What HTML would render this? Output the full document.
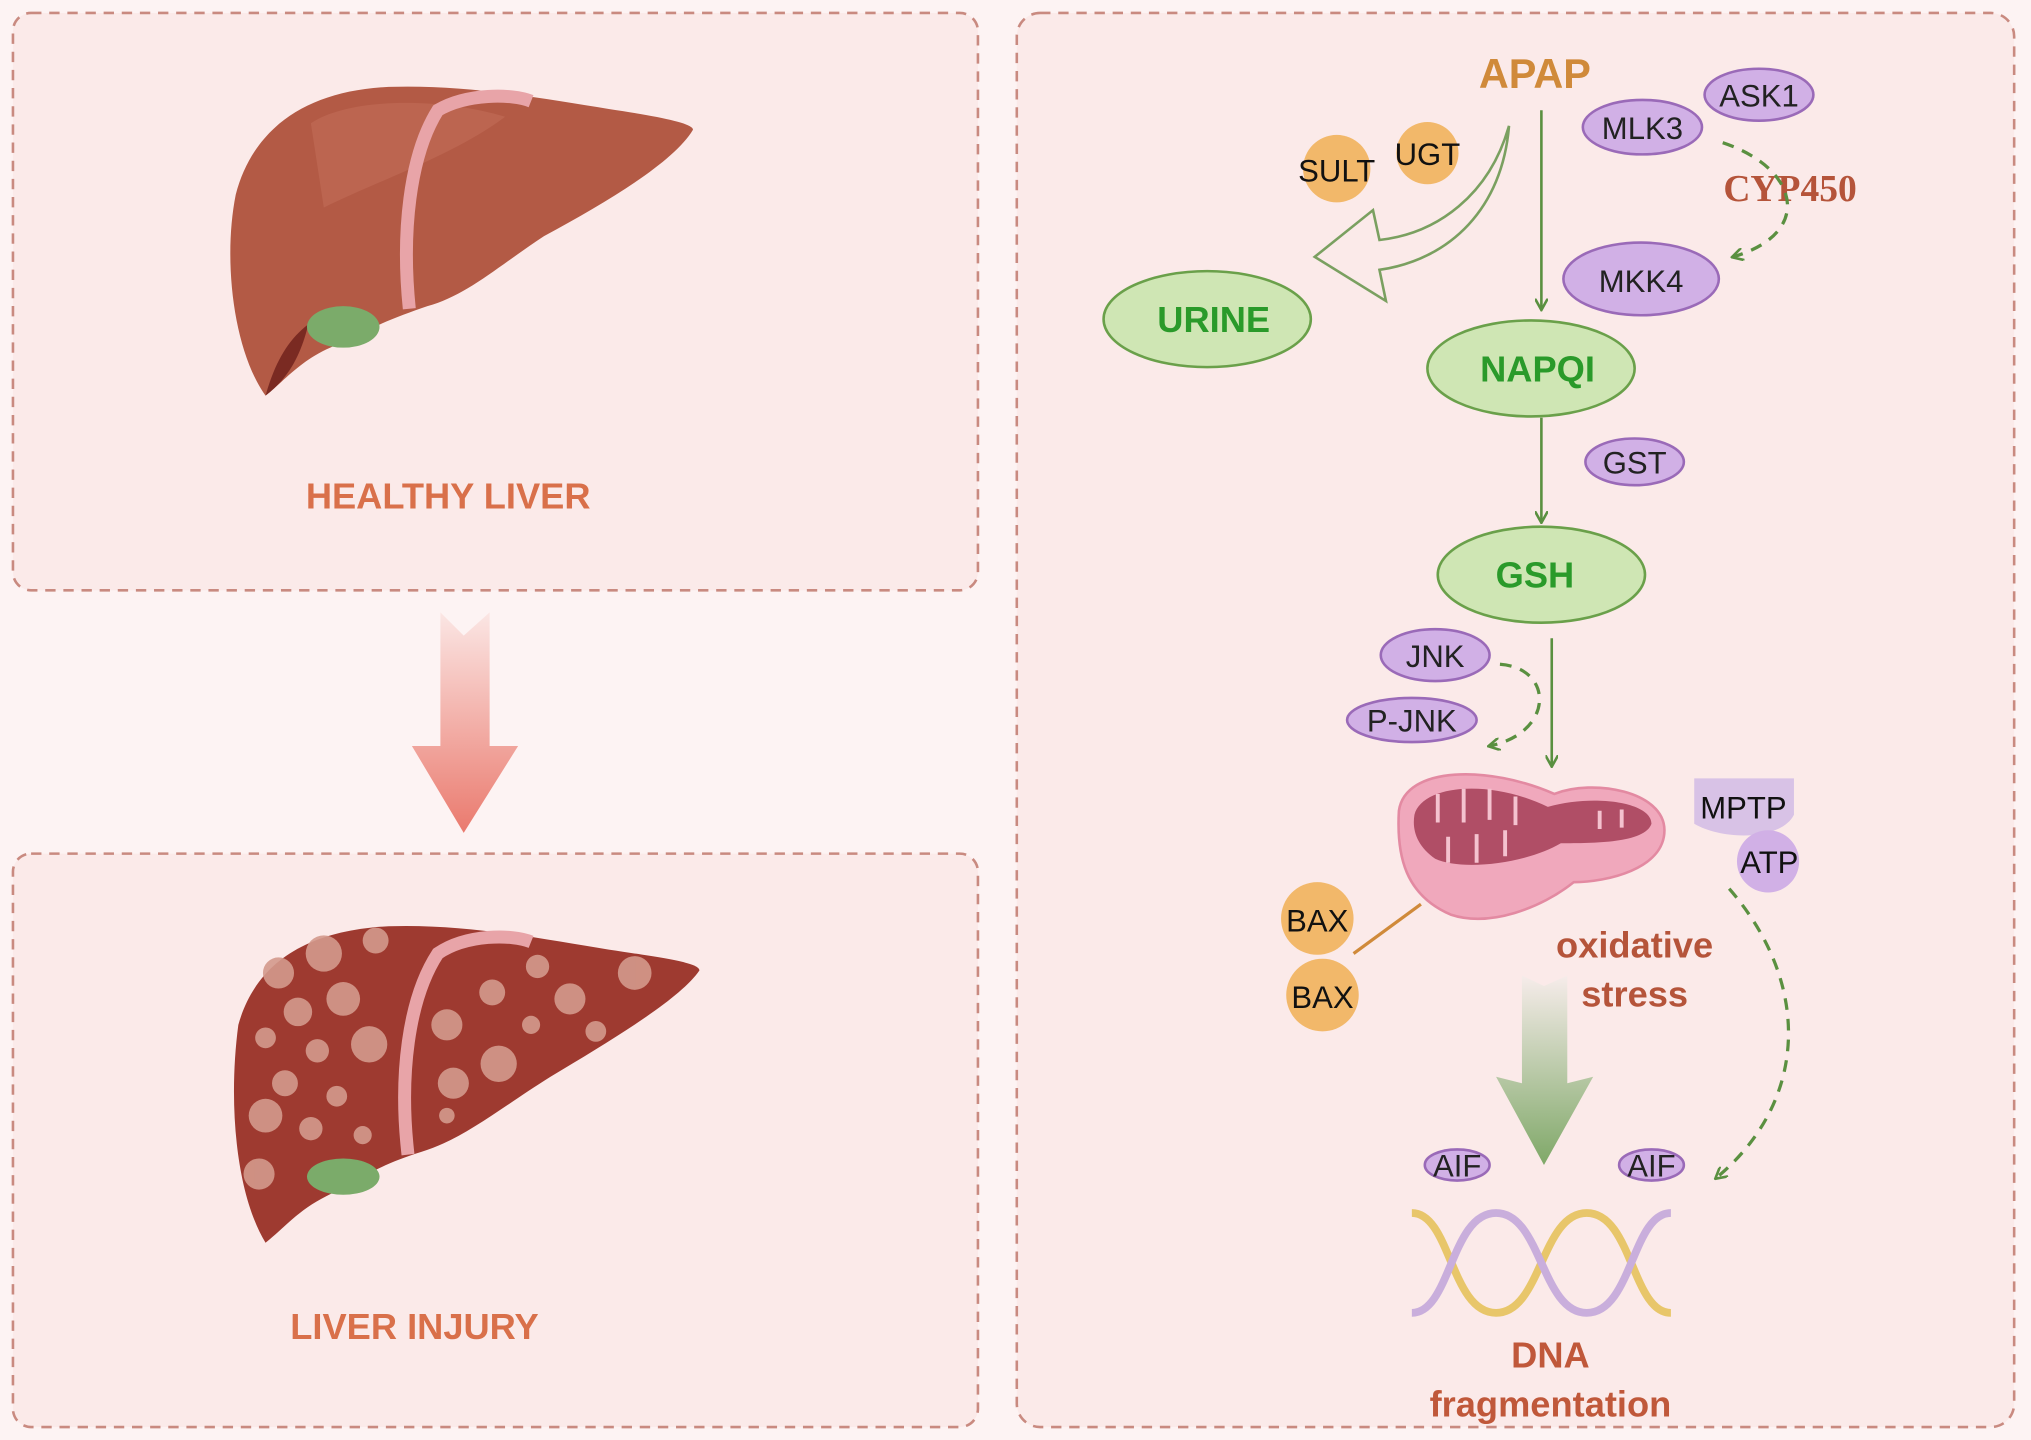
<!DOCTYPE html>
<html><head><meta charset="utf-8"><style>
html,body{margin:0;padding:0;background:#fdf3f3;}
svg{display:block;}
</style></head><body>
<svg width="2031" height="1440" viewBox="0 0 1568 1110" preserveAspectRatio="none" xmlns="http://www.w3.org/2000/svg" font-family="Liberation Sans, Arial, sans-serif">
<defs>
<linearGradient id="pa" x1="0" y1="0" x2="0" y2="1"><stop offset="0" stop-color="#fbe6e4"/><stop offset="1" stop-color="#ea7a6e"/></linearGradient>
<linearGradient id="ga" x1="0" y1="0" x2="0" y2="1"><stop offset="0" stop-color="#f6ecea"/><stop offset="1" stop-color="#7fa868"/></linearGradient>
<marker id="ah" markerWidth="10" markerHeight="10" refX="8" refY="5" orient="auto" markerUnits="userSpaceOnUse"><path d="M0,0 L9,5 L0,10" fill="none" stroke="#5a9040" stroke-width="2"/></marker>
</defs>
<rect width="1568" height="1110" fill="#fdf3f3"/>
<rect x="10" y="10" width="745" height="445" rx="14" fill="#fbeae9" stroke="#c98a80" stroke-width="2" stroke-dasharray="8,6"/>
<rect x="10" y="658" width="745" height="442" rx="14" fill="#fbeae9" stroke="#c98a80" stroke-width="2" stroke-dasharray="8,6"/>
<rect x="785" y="10" width="770" height="1090" rx="18" fill="#fbeae9" stroke="#c98a80" stroke-width="2" stroke-dasharray="8,6"/>

<!-- healthy liver -->
<path d="M205,305 C180,270 172,200 182,150 C195,100 235,70 300,67 C360,65 420,76 470,84 C510,90 535,95 535,100 C520,125 470,155 420,182 C385,205 360,228 330,236 C300,246 275,258 255,268 C232,278 220,293 205,305 Z" fill="#b35a45"/>
<path d="M240,95 C270,75 340,75 390,90 C350,120 290,140 250,160 Z" fill="#c2705a" opacity=".55"/>
<path d="M205,305 C212,280 222,262 238,250 C232,275 222,292 205,305 Z" fill="#7a2a22"/>
<ellipse cx="265" cy="252" rx="28" ry="16" fill="#7bab6a"/>
<path d="M316,238 C310,180 316,120 338,85 C360,72 395,72 410,78" fill="none" stroke="#e8a4a8" stroke-width="10"/>
<!-- injured liver -->
<path d="M205,958 C182,920 176,850 184,790 C198,740 240,717 300,714 C360,712 420,724 470,732 C510,738 540,742 540,748 C525,770 475,800 425,830 C385,855 358,878 325,888 C292,898 272,912 252,922 C230,933 220,946 205,958 Z" fill="#9e3a30"/>
<g fill="#d49a8c" opacity=".9">
<circle cx="215" cy="750" r="12"/><circle cx="250" cy="735" r="14"/><circle cx="290" cy="725" r="10"/><circle cx="230" cy="780" r="11"/><circle cx="265" cy="770" r="13"/><circle cx="205" cy="800" r="8"/><circle cx="245" cy="810" r="9"/><circle cx="285" cy="805" r="14"/><circle cx="220" cy="835" r="10"/><circle cx="260" cy="845" r="8"/><circle cx="205" cy="860" r="13"/><circle cx="240" cy="870" r="9"/><circle cx="200" cy="905" r="12"/><circle cx="280" cy="875" r="7"/>
<circle cx="345" cy="790" r="12"/><circle cx="380" cy="765" r="10"/><circle cx="415" cy="745" r="9"/><circle cx="440" cy="770" r="12"/><circle cx="490" cy="750" r="13"/><circle cx="350" cy="835" r="12"/><circle cx="385" cy="820" r="14"/><circle cx="410" cy="790" r="7"/><circle cx="460" cy="795" r="8"/><circle cx="345" cy="860" r="6"/></g>
<ellipse cx="265" cy="907" rx="28" ry="14" fill="#7bab6a"/>
<path d="M315,890 C308,830 315,770 338,735 C360,720 395,720 410,726" fill="none" stroke="#e8a4a8" stroke-width="10"/>

<text x="346" y="392" font-size="28" font-weight="bold" fill="#d9704a" text-anchor="middle">HEALTHY LIVER</text>
<text x="320" y="1032" font-size="28" font-weight="bold" fill="#d9704a" text-anchor="middle">LIVER INJURY</text>
<path d="M340,472 L358,490 L378,472 L378,575 L400,575 L358,642 L318,575 L340,575 Z" fill="url(#pa)"/>

<!-- right -->
<text x="1185" y="68" font-size="32" font-weight="bold" fill="#d08a3a" text-anchor="middle">APAP</text>
<g stroke="#9a6ab8" stroke-width="2" fill="#d1b0e6">
<ellipse cx="1268" cy="98" rx="46" ry="21"/><ellipse cx="1358" cy="73" rx="42" ry="20"/><ellipse cx="1267" cy="215" rx="60" ry="28"/><ellipse cx="1262" cy="356" rx="38" ry="18"/><ellipse cx="1108" cy="505" rx="42" ry="20"/><ellipse cx="1090" cy="555" rx="50" ry="17"/><ellipse cx="1125" cy="898" rx="25" ry="12"/><ellipse cx="1275" cy="898" rx="25" ry="12"/></g>
<g font-size="24" fill="#222" text-anchor="middle">
<text x="1268" y="107">MLK3</text><text x="1358" y="82">ASK1</text><text x="1267" y="225">MKK4</text><text x="1262" y="365">GST</text><text x="1108" y="514">JNK</text><text x="1090" y="564">P-JNK</text><text x="1125" y="907">AIF</text><text x="1275" y="907">AIF</text></g>
<text x="1382" y="155" font-size="29" font-weight="bold" fill="#b5543a" text-anchor="middle" style="font-family:'Liberation Serif',serif">CYP450</text>
<circle cx="1032" cy="130" r="26" fill="#f2b86a"/><circle cx="1102" cy="118" r="24" fill="#f2b86a"/>
<g font-size="24" fill="#111" text-anchor="middle"><text x="1032" y="140">SULT</text><text x="1102" y="127">UGT</text></g>
<g stroke="#6aa04a" stroke-width="2" fill="#cfe6b4">
<ellipse cx="932" cy="246" rx="80" ry="37"/><ellipse cx="1182" cy="284" rx="80" ry="37"/><ellipse cx="1190" cy="443" rx="80" ry="37"/></g>
<g font-size="28" font-weight="bold" fill="#2a9a2a" text-anchor="middle">
<text x="937" y="256">URINE</text><text x="1187" y="294">NAPQI</text><text x="1185" y="453">GSH</text></g>
<path d="M1165,97 C1160,160 1120,200 1065,208 L1070,232 L1015,198 L1060,162 L1065,185 C1110,180 1150,150 1165,97 Z" fill="#fbeae9" stroke="#7aa060" stroke-width="2"/>
<g stroke="#5a9040" stroke-width="2" fill="none">
<line x1="1190" y1="85" x2="1190" y2="238" marker-end="url(#ah)"/>
<line x1="1190" y1="322" x2="1190" y2="402" marker-end="url(#ah)"/>
<line x1="1198" y1="492" x2="1198" y2="590" marker-end="url(#ah)"/>
<g stroke-dasharray="9,7" stroke-width="2.5">
<path d="M1330,110 C1390,130 1400,180 1338,198" marker-end="url(#ah)"/>
<path d="M1158,512 C1200,515 1200,565 1150,575" marker-end="url(#ah)"/>
<path d="M1335,685 C1400,760 1395,850 1325,908" marker-end="url(#ah)"/>
</g></g>
<!-- mito -->
<path d="M1080,625 C1085,590 1150,590 1200,612 C1230,600 1285,610 1285,640 C1285,670 1240,680 1215,680 C1190,700 1150,715 1120,705 C1085,690 1078,660 1080,625 Z" fill="#f0a8bc" stroke="#e38aa2" stroke-width="2"/>
<path d="M1092,628 C1098,605 1150,600 1195,622 C1230,612 1275,618 1275,635 C1270,650 1230,650 1205,650 C1180,665 1130,672 1108,662 C1094,652 1090,640 1092,628 Z" fill="#b04e66"/>
<g stroke="#f4c2cf" stroke-width="3" fill="none"><path d="M1110,612 v22 M1130,608 v26 M1150,608 v24 M1170,614 v22 M1118,665 v-20 M1140,665 v-22 M1162,660 v-20 M1235,625 v14 M1252,624 v14"/></g>
<path d="M1308,600 H1385 V628 C1375,648 1330,648 1308,635 Z" fill="#d8c2e6"/>
<circle cx="1365" cy="664" r="24" fill="#d1b0e6"/>
<text x="1346" y="631" font-size="24" fill="#111" text-anchor="middle">MPTP</text>
<text x="1366" y="673" font-size="24" fill="#111" text-anchor="middle">ATP</text>
<circle cx="1017" cy="708" r="28" fill="#f2b86a"/><circle cx="1021" cy="767" r="28" fill="#f2b86a"/>
<text x="1017" y="718" font-size="24" fill="#111" text-anchor="middle">BAX</text>
<text x="1021" y="777" font-size="24" fill="#111" text-anchor="middle">BAX</text>
<line x1="1045" y1="735" x2="1097" y2="697" stroke="#d08a3a" stroke-width="2.5"/>
<text x="1262" y="738" font-size="28" font-weight="bold" fill="#b5543a" text-anchor="middle">oxidative</text>
<text x="1262" y="776" font-size="28" font-weight="bold" fill="#b5543a" text-anchor="middle">stress</text>
<path d="M1175,752 L1192,760 L1210,752 L1210,835 L1230,830 L1192,898 L1155,830 L1175,835 Z" fill="url(#ga)"/>
<!-- DNA -->
<g fill="none" stroke-width="6">
<path d="M1090,935 C1120,935 1120,1012 1155,1012 C1190,1012 1190,935 1225,935 C1260,935 1260,1012 1290,1012" stroke="#e8c66a"/>
<path d="M1090,1012 C1120,1012 1120,935 1155,935 C1190,935 1190,1012 1225,1012 C1260,1012 1260,935 1290,935" stroke="#c9aedc"/>
</g>
<text x="1197" y="1054" font-size="28" font-weight="bold" fill="#c0583a" text-anchor="middle">DNA</text>
<text x="1197" y="1092" font-size="28" font-weight="bold" fill="#c0583a" text-anchor="middle">fragmentation</text>
</svg>
</body></html>
